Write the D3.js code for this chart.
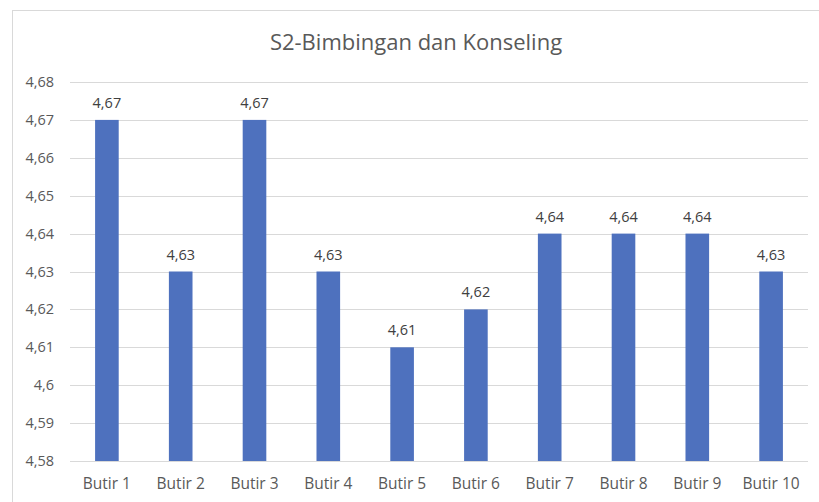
<!DOCTYPE html>
<html>
<head>
<meta charset="utf-8">
<script src="https://cdn.jsdelivr.net/npm/d3@7"></script>
<style>
  body { margin: 0; background: #fff; }
  svg { font-family: "Open Sans", Lato, sans-serif; }
</style>
</head>
<body>
<svg width="819" height="502"></svg>
<script>
const categories = ['Butir 1', 'Butir 2', 'Butir 3', 'Butir 4', 'Butir 5', 'Butir 6', 'Butir 7', 'Butir 8', 'Butir 9', 'Butir 10'];
const values = [4.67, 4.63, 4.67, 4.63, 4.61, 4.62, 4.64, 4.64, 4.64, 4.63];
const yTicks = [4.58, 4.59, 4.6, 4.61, 4.62, 4.63, 4.64, 4.65, 4.66, 4.67, 4.68];

const svg = d3.select('svg');
const margin = { top: 82, right: 11, bottom: 41, left: 70 };
const width = 819, height = 502;

const fmt = v => String(+v.toFixed(2)).replace('.', ',');

// chart frame
svg.append('rect')
    .attr('x', 12.5).attr('y', 10.5)
    .attr('width', 820).attr('height', 500)
    .attr('fill', '#fff').attr('stroke', '#d9d9d9');

const x = d3.scaleBand()
    .domain(categories)
    .range([margin.left, width - margin.right])
    .paddingInner(0.68).paddingOuter(0.34);

const y = d3.scaleLinear()
    .domain([4.58, 4.68])
    .range([height - margin.bottom, margin.top]);

// gridlines
svg.append('g').selectAll('line').data(yTicks)
    .enter().append('line')
    .attr('x1', margin.left).attr('x2', width - margin.right)
    .attr('y1', d => Math.round(y(d)) + 0.5).attr('y2', d => Math.round(y(d)) + 0.5)
    .attr('stroke', '#d9d9d9');

// y labels
svg.append('g').selectAll('text').data(yTicks)
    .enter().append('text')
    .attr('x', 54).attr('y', d => y(d))
    .attr('dy', '0.35em')
    .attr('text-anchor', 'end')
    .attr('font-size', '14.5px').attr('fill', '#595959')
    .text(fmt);

// bars
svg.append('g').selectAll('rect').data(values)
    .enter().append('rect')
    .attr('x', (d, i) => x(categories[i]))
    .attr('y', d => y(d))
    .attr('width', x.bandwidth())
    .attr('height', d => y(4.58) - y(d))
    .attr('fill', '#4e71be');

// value labels
svg.append('g').selectAll('text').data(values)
    .enter().append('text')
    .attr('x', (d, i) => x(categories[i]) + x.bandwidth() / 2)
    .attr('y', d => y(d) - 12)
    .attr('text-anchor', 'middle')
    .attr('font-size', '14.5px').attr('fill', '#404040')
    .text(fmt);

// x labels
svg.append('g').selectAll('text').data(categories)
    .enter().append('text')
    .attr('x', d => x(d) + x.bandwidth() / 2)
    .attr('y', height - margin.bottom + 28)
    .attr('text-anchor', 'middle')
    .attr('font-size', '15.5px').attr('fill', '#595959')
    .text(d => d);

svg.append('text')
    .attr('x', 416).attr('y', 50)
    .attr('text-anchor', 'middle')
    .attr('font-size', '22px').attr('fill', '#595959')
    .text('S2-Bimbingan dan Konseling');
</script>
</body>
</html>
